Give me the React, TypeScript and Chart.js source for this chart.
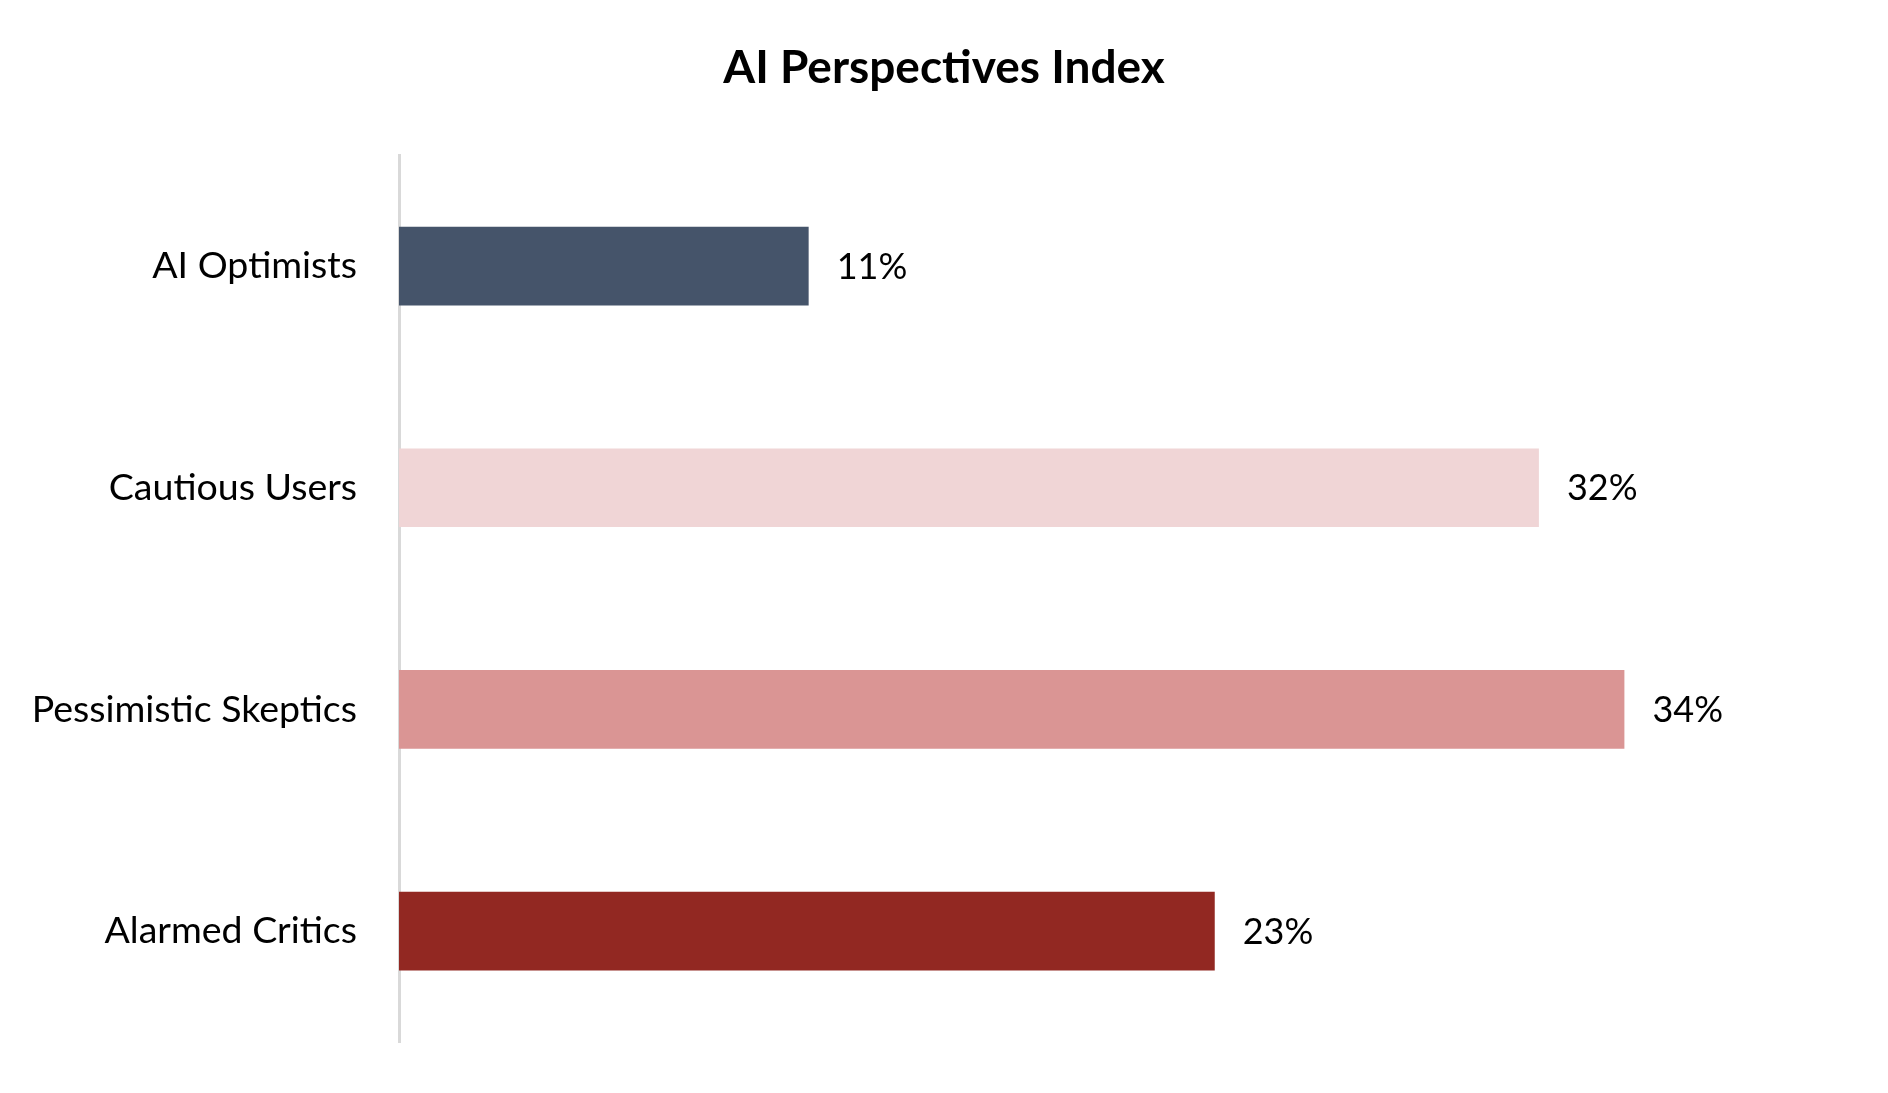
import React, { useEffect, useRef } from "react";
import { Chart, registerables } from "chart.js";

Chart.register(...registerables);

const categories = ["AI Optimists", "Cautious Users", "Pessimistic Skeptics", "Alarmed Critics"];
const values = [11.5, 32.0, 34.4, 22.9];
const displayLabels = ["11%", "32%", "34%", "23%"];
const barColors = ["#45546A", "#F0D5D6", "#DA9594", "#922822"];
const chartTitle = "AI Perspectives Index";
const axisMax = 41.8;

const FONT = "Lato, 'Open Sans', sans-serif";

const valueLabelPlugin = {
  id: "valueLabels",
  afterDatasetsDraw(chart: any) {
    const ctx = chart.ctx;
    const meta = chart.getDatasetMeta(0);
    ctx.save();
    ctx.font = `36px ${FONT}`;
    ctx.fillStyle = "#000000";
    ctx.textAlign = "left";
    ctx.textBaseline = "middle";
    meta.data.forEach((bar: any, i: number) => {
      ctx.fillText(displayLabels[i], bar.x + 28, bar.y + 1);
    });
    ctx.restore();
  },
};

export default function App() {
  const ref = useRef<HTMLCanvasElement>(null);
  useEffect(() => {
    document.body.style.margin = "0";
    const chart = new Chart(ref.current!, {
      type: "bar",
      data: {
        labels: categories,
        datasets: [
          {
            data: values,
            backgroundColor: barColors,
            borderWidth: 0,
            categoryPercentage: 1,
            barPercentage: 0.355,
          },
        ],
      },
      options: {
        indexAxis: "y",
        animation: false,
        responsive: false,
        layout: { padding: { left: 0, right: 0, top: 0, bottom: 51 } },
        plugins: {
          legend: { display: false },
          tooltip: { enabled: false },
          title: {
            display: true,
            text: chartTitle,
            color: "#000000",
            font: { family: FONT, size: 46, weight: "bold", lineHeight: 1.2 },
            padding: { top: 41, bottom: 59 },
          },
        },
        scales: {
          x: {
            display: false,
            min: 0,
            max: axisMax,
          },
          y: {
            afterFit(scale: any) {
              scale.width = 399;
              scale.paddingTop = 0;
              scale.paddingBottom = 0;
            },
            grid: { display: false, drawTicks: false },
            border: { display: true, color: "#D9D9D9", width: 3 },
            ticks: {
              color: "#000000",
              padding: 42,
              font: { family: FONT, size: 37.5 },
            },
          },
        },
      },
      plugins: [valueLabelPlugin],
    });
    return () => chart.destroy();
  }, []);
  return (
    <div style={{ position: "absolute", left: 0, top: 0, width: 1888, height: 1093, background: "#fff" }}>
      <canvas ref={ref} width={1888} height={1093} style={{ width: 1888, height: 1093 }} />
    </div>
  );
}
